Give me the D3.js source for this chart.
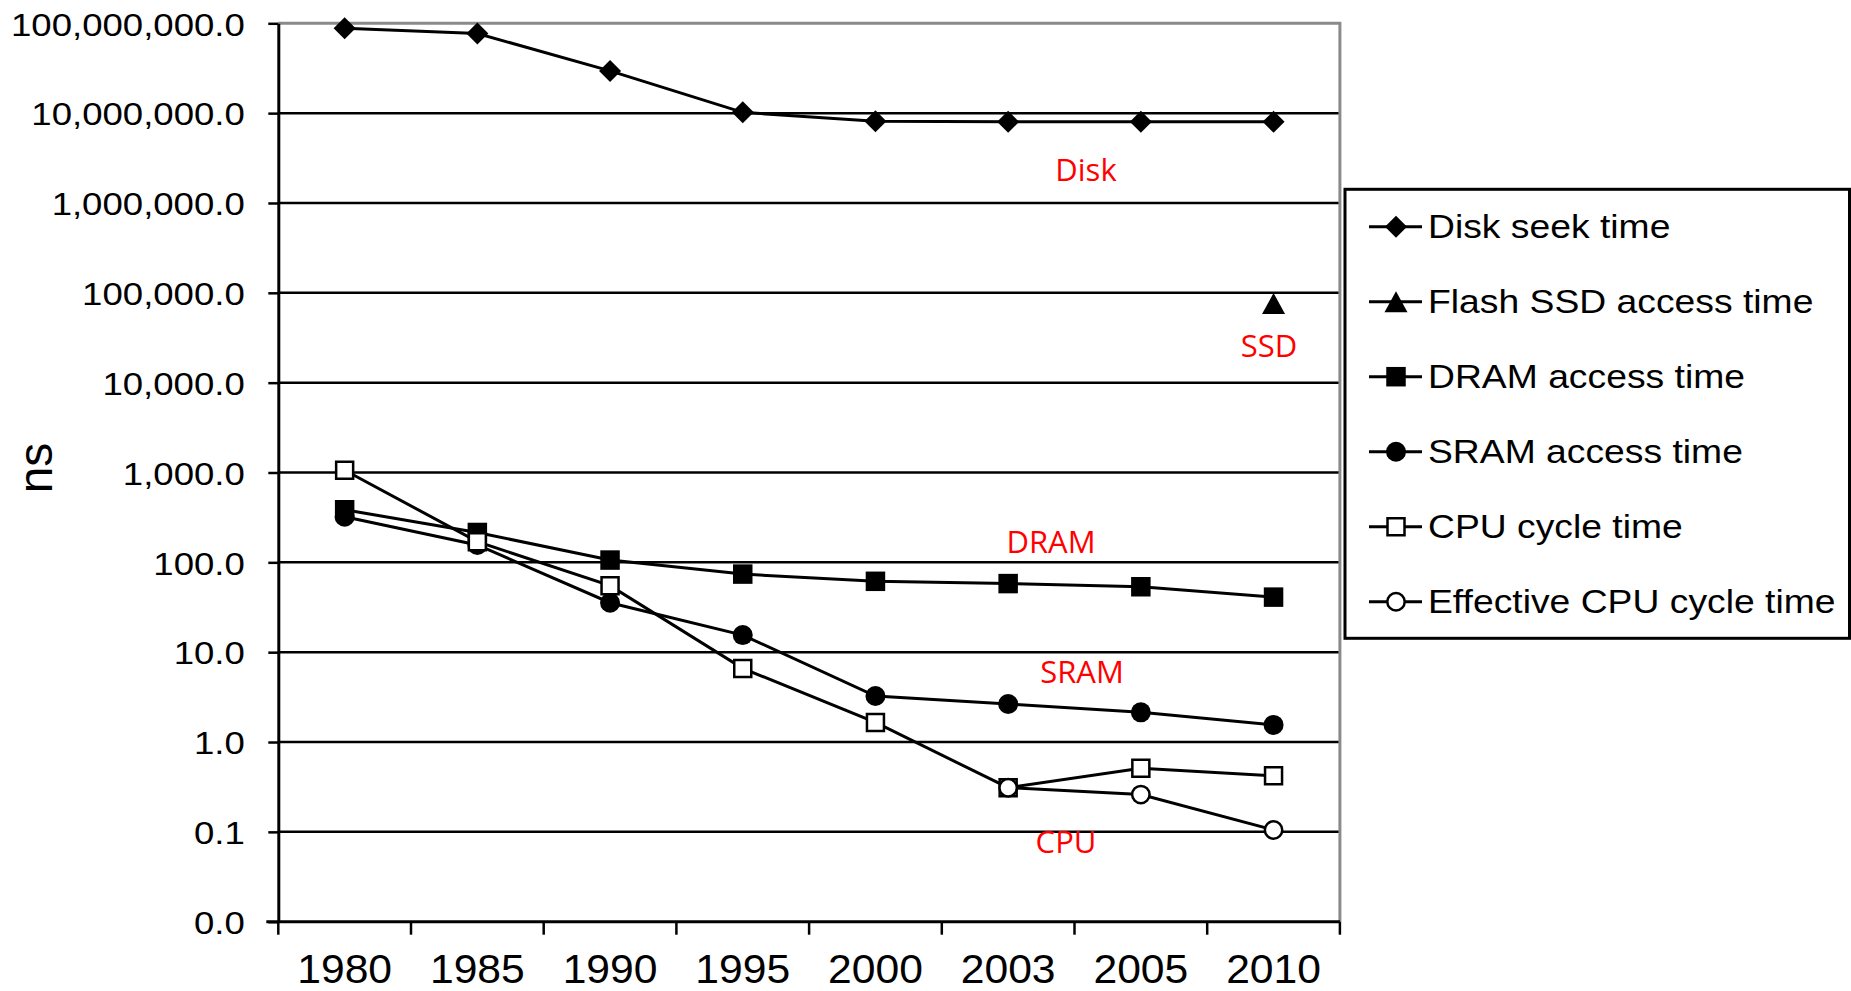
<!DOCTYPE html>
<html>
<head>
<meta charset="utf-8">
<script src="https://cdn.jsdelivr.net/npm/d3@7"></script>
<style>
  html, body { margin: 0; padding: 0; background: #fff; }
  svg { display: block; }
</style>
</head>
<body>
<svg id="chart" width="1851" height="991"></svg>
<script>
// ---- data ----
const years = ["1980", "1985", "1990", "1995", "2000", "2003", "2005", "2010"];
const yTicks = [0.01, 0.1, 1, 10, 100, 1000, 10000, 100000, 1000000, 10000000, 100000000];
const diskSeek = [88000000, 77000000, 29500000, 10200000, 8100000, 8000000, 8000000, 8000000];
const flashSSD = [null, null, null, null, null, null, null, 76000];
const dramAccess = [385, 215, 106, 74, 61.5, 58, 53.5, 41];
const sramAccess = [322, 156, 35.5, 15.5, 3.25, 2.65, 2.14, 1.55];
const cpuCycle = [1060, 170, 55, 6.6, 1.65, 0.31, 0.51, 0.42];
const effCpuCycle = [null, null, null, null, null, 0.31, 0.26, 0.105];
const seriesNames = ["Disk seek time", "Flash SSD access time", "DRAM access time",
                     "SRAM access time", "CPU cycle time", "Effective CPU cycle time"];
const seriesShapes = ["diamond", "triangle", "square", "circle", "square", "circle"];
const seriesFills = ["#000", "#000", "#000", "#000", "#fff", "#fff"];
const annotations = ["Disk", "SSD", "DRAM", "SRAM", "CPU"];
const annotationPos = [[1086, 180.7], [1269, 356.7], [1051, 553.3], [1082, 683], [1066, 852.7]];

const seriesValues = [diskSeek, flashSSD, dramAccess, sramAccess, cpuCycle, effCpuCycle];

(function () {
// ---- layout ----
const pLeft = 278.3, pRight = 1339.9, pTop = 23.3, pBottom = 921.7;
const svg = d3.select("#chart");

const x = d3.scaleBand().domain(years).range([pLeft, pRight]);
const y = d3.scaleLog().domain([0.01, 1e8]).range([pBottom, pTop]);

// symbol types
const diamondType = { draw(ctx, size) { const r = Math.sqrt(size) / 2; ctx.moveTo(0, -r); ctx.lineTo(r, 0); ctx.lineTo(0, r); ctx.lineTo(-r, 0); ctx.closePath(); } };
const triangleType = { draw(ctx, size) { const w = Math.sqrt(size); const h = w * 0.91; ctx.moveTo(0, -h / 2); ctx.lineTo(w / 2, h / 2); ctx.lineTo(-w / 2, h / 2); ctx.closePath(); } };
const squareType = { draw(ctx, size) { const s = Math.sqrt(size) / 2; ctx.rect(-s, -s, 2 * s, 2 * s); } };
function symbolFor(shape, filled) {
  if (shape === "diamond") return d3.symbol().type(diamondType).size(22 * 22)();
  if (shape === "triangle") return d3.symbol().type(triangleType).size(23 * 23)();
  if (shape === "square") return d3.symbol().type(squareType).size(filled ? 19.5 * 19.5 : 17 * 17)();
  return d3.symbol().type(d3.symbolCircle).size(filled ? Math.PI * 10 * 10 : Math.PI * 8.7 * 8.7)();
}

// gridlines
svg.append("g").selectAll("line")
  .data(yTicks.filter(v => v > 0.01 && v < 1e8))
  .join("line")
  .attr("x1", pLeft).attr("x2", pRight)
  .attr("y1", d => y(d)).attr("y2", d => y(d))
  .attr("stroke", "#000").attr("stroke-width", 2.5);

// gray top & right border
svg.append("path")
  .attr("d", `M${pLeft},${pTop}H${pRight}V${pBottom}`)
  .attr("fill", "none").attr("stroke", "#8a8a8a").attr("stroke-width", 3);

// y axis
const yAxis = svg.append("g").attr("transform", `translate(${pLeft},0)`)
  .call(d3.axisLeft(y).tickValues(yTicks).tickFormat(d3.format(",.1f")).tickSize(10).tickSizeOuter(0));
yAxis.select(".domain").attr("stroke", "#000").attr("stroke-width", 3);
yAxis.selectAll(".tick line").attr("stroke", "#000").attr("stroke-width", 2.5);
yAxis.selectAll(".tick text")
  .attr("x", null).attr("dy", null)
  .attr("transform", "translate(-33.5,11.8) scale(1.18,1)")
  .attr("font-family", "'Liberation Sans', Arial, sans-serif")
  .attr("font-size", 31).attr("fill", "#000");

// x axis (boundary ticks)
const xAxisG = svg.append("g");
xAxisG.append("line").attr("x1", pLeft - 12).attr("x2", pRight).attr("y1", pBottom).attr("y2", pBottom)
  .attr("stroke", "#000").attr("stroke-width", 3);
xAxisG.selectAll(".bt").data(years.concat(["end"])).join("line").attr("class", "bt")
  .attr("x1", (d, i) => pLeft + i * x.step()).attr("x2", (d, i) => pLeft + i * x.step())
  .attr("y1", pBottom).attr("y2", pBottom + 13)
  .attr("stroke", "#000").attr("stroke-width", 2.5);
const xLab = svg.append("g").attr("transform", `translate(0,${pBottom})`)
  .call(d3.axisBottom(x).tickSize(0).tickPadding(0));
xLab.select(".domain").remove();
xLab.selectAll(".tick text")
  .attr("y", null).attr("dy", null)
  .attr("transform", "translate(0,61.5) scale(1.04,1)")
  .attr("font-family", "'Liberation Sans', Arial, sans-serif")
  .attr("font-size", 41).attr("fill", "#000");

// y axis title
svg.append("text")
  .attr("transform", "translate(51.7,468) rotate(-90)")
  .attr("text-anchor", "middle")
  .attr("font-family", "'Liberation Sans', Arial, sans-serif")
  .attr("font-size", 48).attr("fill", "#000")
  .text("ns");

// series
const line = d3.line().defined(d => d.v != null).x(d => x(d.year) + x.bandwidth() / 2).y(d => y(d.v));
seriesValues.forEach((vals, si) => {
  const pts = years.map((yr, i) => ({ year: yr, v: vals[i] }));
  const g = svg.append("g");
  g.append("path").datum(pts).attr("d", line)
    .attr("fill", "none").attr("stroke", "#000").attr("stroke-width", 3);
  const filled = seriesFills[si] === "#000";
  g.selectAll("path.m").data(pts.filter(d => d.v != null)).join("path").attr("class", "m")
    .attr("transform", d => `translate(${x(d.year) + x.bandwidth() / 2},${y(d.v)})`)
    .attr("d", symbolFor(seriesShapes[si], filled))
    .attr("fill", seriesFills[si])
    .attr("stroke", filled ? "none" : "#000").attr("stroke-width", 2.5);
});

// annotations
svg.append("g").selectAll("text").data(annotations).join("text")
  .attr("x", (d, i) => annotationPos[i][0]).attr("y", (d, i) => annotationPos[i][1])
  .attr("text-anchor", "middle")
  .attr("font-family", "'Open Sans', 'Noto Sans', sans-serif")
  .attr("font-size", 31).attr("fill", "#ff0000")
  .text(d => d);

// legend
const lg = svg.append("g");
lg.append("rect").attr("x", 1345).attr("y", 189.3).attr("width", 504.5).attr("height", 449)
  .attr("fill", "#fff").attr("stroke", "#000").attr("stroke-width", 3);
seriesNames.forEach((name, i) => {
  const ly = 226.7 + i * 75;
  lg.append("line").attr("x1", 1369).attr("x2", 1422).attr("y1", ly).attr("y2", ly)
    .attr("stroke", "#000").attr("stroke-width", 3);
  const filled = seriesFills[i] === "#000";
  lg.append("path").attr("transform", `translate(1396,${ly})`)
    .attr("d", symbolFor(seriesShapes[i], filled))
    .attr("fill", seriesFills[i]).attr("stroke", filled ? "none" : "#000").attr("stroke-width", 2.5);
  lg.append("text").attr("transform", `translate(1428,${ly + 11.7}) scale(1.13,1)`)
    .attr("font-family", "'Liberation Sans', Arial, sans-serif")
    .attr("font-size", 33).attr("fill", "#000")
    .text(name);
});
})();
</script>
</body>
</html>
